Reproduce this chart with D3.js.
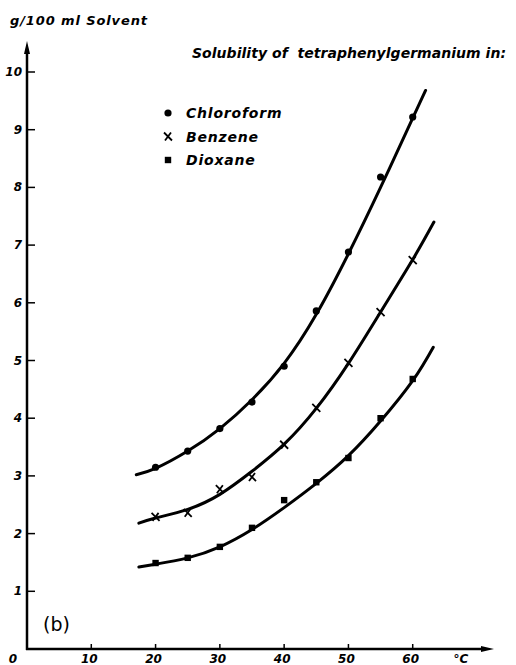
<!DOCTYPE html>
<html lang="en">
<head>
<meta charset="utf-8">
<script src="https://d3js.org/d3.v7.min.js"></script>
<style type="text/css">
body { margin: 0; background: #fff; }
svg text {
  font-family: "DejaVu Sans", sans-serif;
  font-style: italic;
  fill: #000;
}
.tick-label { font-size: 12px; font-weight: bold; }
.legend-text { font-size: 14px; letter-spacing: 0.8px; font-weight: bold; }
.curve { fill: none; stroke: #000; stroke-width: 3; stroke-linecap: round; }
.axis-line { stroke: #000; stroke-width: 2.5; fill: none; }
</style>
</head>
<body>
<div id="chart"></div>
<script type="text/javascript">

// measured points (temperature in deg C, g/100 ml)
var temps = [20, 25, 30, 35, 40, 45, 50, 55, 60];
var chloroform = [3.15, 3.43, 3.82, 4.28, 4.9, 5.86, 6.88, 8.18, 9.22];
var benzene    = [2.29, 2.36, 2.77, 2.98, 3.54, 4.18, 4.96, 5.84, 6.74];
var dioxane    = [1.49, 1.58, 1.77, 2.1, 2.58, 2.89, 3.31, 4.0, 4.68];

// hand drawn curves
var chloroformCurveT = [17, 20, 25, 30, 35, 40, 45, 50, 55, 60, 62];
var chloroformCurveV = [3.02, 3.13, 3.43, 3.82, 4.32, 4.95, 5.8, 6.85, 8.0, 9.2, 9.68];
var benzeneCurveT = [17.4, 20, 25, 30, 35, 40, 45, 50, 55, 60, 63.3];
var benzeneCurveV = [2.18, 2.27, 2.42, 2.68, 3.08, 3.55, 4.17, 4.95, 5.84, 6.75, 7.4];
var dioxaneCurveT = [17.4, 20, 25, 30, 35, 40, 45, 50, 55, 60, 63.2];
var dioxaneCurveV = [1.42, 1.47, 1.58, 1.77, 2.07, 2.45, 2.87, 3.35, 3.95, 4.65, 5.23];

var xTicks = [10, 20, 30, 40, 50, 60];
var yTicks = [1, 2, 3, 4, 5, 6, 7, 8, 9, 10];
var legendNames = ["Chloroform", "Benzene", "Dioxane"];

var width = 516, height = 665;

var x = d3.scaleLinear().domain([0, 70]).range([27, 477]);
var y = d3.scaleLinear().domain([0, 10]).range([649, 72]);

var svg = d3.select("#chart").append("svg")
  .attr("width", width)
  .attr("height", height);

// axes with arrows
svg.append("line").attr("class", "axis-line")
  .attr("x1", x(0)).attr("y1", y(0) + 1)
  .attr("x2", x(0)).attr("y2", 50);
svg.append("path")
  .attr("d", "M" + x(0) + ",41 L" + (x(0) - 3) + ",54 L" + (x(0) + 3) + ",54 Z")
  .attr("fill", "#000");

svg.append("line").attr("class", "axis-line")
  .attr("x1", x(0) - 1).attr("y1", y(0))
  .attr("x2", 485).attr("y2", y(0));
svg.append("path")
  .attr("d", "M494," + y(0) + " L481," + (y(0) - 3) + " L481," + (y(0) + 3) + " Z")
  .attr("fill", "#000");

// y ticks
svg.selectAll(".ytick").data(yTicks).enter().append("line")
  .attr("class", "ytick")
  .attr("x1", x(0)).attr("x2", x(0) + 8)
  .attr("y1", function(d) { return y(d); })
  .attr("y2", function(d) { return y(d); })
  .attr("stroke", "#000").attr("stroke-width", 1.5);

svg.selectAll(".ylab").data(yTicks).enter().append("text")
  .attr("class", "tick-label")
  .attr("x", 22)
  .attr("y", function(d) { return y(d) + 4; })
  .attr("text-anchor", "end")
  .text(function(d) { return d; });

// x ticks
svg.selectAll(".xtick").data(xTicks).enter().append("line")
  .attr("class", "xtick")
  .attr("x1", function(d) { return x(d); })
  .attr("x2", function(d) { return x(d); })
  .attr("y1", y(0)).attr("y2", y(0) - 5)
  .attr("stroke", "#000").attr("stroke-width", 1.5);

svg.selectAll(".xlab").data(xTicks).enter().append("text")
  .attr("class", "tick-label")
  .attr("x", function(d) { return x(d) - 2; })
  .attr("y", 663)
  .attr("text-anchor", "middle")
  .text(function(d) { return d; });

svg.append("text").attr("class", "tick-label")
  .attr("x", 13).attr("y", 663).attr("text-anchor", "middle").text("0");

svg.append("text").attr("class", "tick-label")
  .attr("x", 461).attr("y", 663).attr("text-anchor", "middle").text("\u00b0C");

// titles
svg.append("text")
  .attr("x", 10).attr("y", 25)
  .style("font-size", "13px").style("font-weight", "bold")
  .attr("textLength", 137)
  .text("g/100 ml Solvent");

svg.append("text")
  .attr("x", 192).attr("y", 58)
  .style("font-size", "14px").style("font-weight", "bold")
  .attr("xml:space", "preserve")
  .attr("textLength", 314)
  .text("Solubility of  tetraphenylgermanium in:");

svg.append("text")
  .attr("x", 43).attr("y", 631)
  .style("font-size", "19px").style("font-style", "normal")
  .text("(b)");

// curves
var line = d3.line()
  .x(function(d) { return x(d[0]); })
  .y(function(d) { return y(d[1]); })
  .curve(d3.curveNatural);

var curves = [
  d3.zip(chloroformCurveT, chloroformCurveV),
  d3.zip(benzeneCurveT, benzeneCurveV),
  d3.zip(dioxaneCurveT, dioxaneCurveV)
];

svg.selectAll(".curve").data(curves).enter().append("path")
  .attr("class", "curve")
  .attr("d", line);

// markers
function dot(g, cx, cy) {
  g.append("circle").attr("cx", cx).attr("cy", cy).attr("r", 3.6).attr("fill", "#000");
}
function cross(g, cx, cy) {
  g.append("path")
    .attr("d", "M" + (cx - 4) + "," + (cy - 4) + " L" + (cx + 4) + "," + (cy + 4) +
               " M" + (cx + 3) + "," + (cy - 4) + " L" + (cx - 3) + "," + (cy + 4))
    .attr("stroke", "#000").attr("stroke-width", 1.8).attr("fill", "none");
}
function square(g, cx, cy) {
  g.append("rect").attr("x", cx - 3.2).attr("y", cy - 3.2)
    .attr("width", 6.4).attr("height", 6.4).attr("fill", "#000");
}

var marks = svg.append("g");
temps.forEach(function(t, i) {
  dot(marks, x(t), y(chloroform[i]));
  cross(marks, x(t), y(benzene[i]));
  square(marks, x(t), y(dioxane[i]));
});

// legend
var markers = [dot, cross, square];
var legend = svg.append("g");
legendNames.forEach(function(name, i) {
  var ly = 113 + i * 23.5;
  markers[i](legend, 168, ly);
  legend.append("text")
    .attr("class", "legend-text")
    .attr("x", 186).attr("y", ly + 5)
    .text(name);
});

</script>
</body>
</html>
